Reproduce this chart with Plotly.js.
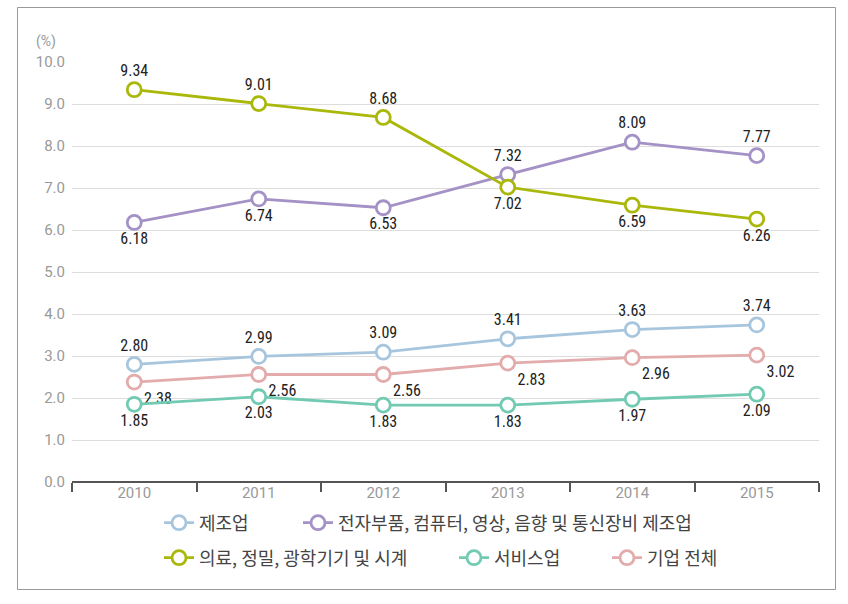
<!DOCTYPE html>
<html>
<head>
<meta charset="utf-8">
<script src="https://cdn.plot.ly/plotly-3.0.1.min.js"></script>
<style>
html,body{margin:0;padding:0;background:#fff;}
#chart{width:848px;height:604px;}
</style>
</head>
<body>
<div id="chart"></div>
<script>
const years = ['2010','2011','2012','2013','2014','2015'];
const seriesNames = ['제조업','전자부품, 컴퓨터, 영상, 음향 및 통신장비 제조업','의료, 정밀, 광학기기 및 시계','서비스업','기업 전체'];
const manufacturing = [2.80, 2.99, 3.09, 3.41, 3.63, 3.74];
const electronics = [6.18, 6.74, 6.53, 7.32, 8.09, 7.77];
const medical = [9.34, 9.01, 8.68, 7.02, 6.59, 6.26];
const services = [1.85, 2.03, 1.83, 1.83, 1.97, 2.09];
const allFirms = [2.38, 2.56, 2.56, 2.83, 2.96, 3.02];
const yTicks = [0,1,2,3,4,5,6,7,8,9,10];

const colors = ['#a7c6de','#a491c6','#a9b80a','#72cab2','#e3abab'];
const labelFont = {family:'"Liberation Sans Narrow", "Roboto Condensed", Roboto, sans-serif', size:16, color:'#222'};

function mk(name, y, color, pos, leg){
  return {
    type:'scatter', mode:'lines+markers+text', x:years, y:y, name:name,
    text:y.map(v=>v.toFixed(2)), textposition:pos, textfont:labelFont,
    line:{color:color, width:2.8},
    marker:{symbol:'circle', size:14, color:'#fff', line:{color:color, width:2.8}},
    cliponaxis:false, legend:leg, hoverinfo:'skip'
  };
}
const data = [
  mk(seriesNames[4], allFirms, colors[4], 'bottom right', 'legend5'),
  mk(seriesNames[3], services, colors[3], 'bottom center', 'legend4'),
  mk(seriesNames[0], manufacturing, colors[0], 'top center', 'legend'),
  mk(seriesNames[1], electronics, colors[1], ['bottom center','bottom center','bottom center','top center','top center','top center'], 'legend2'),
  mk(seriesNames[2], medical, colors[2], ['top center','top center','top center','bottom center','bottom center','bottom center'], 'legend3')
];

const legFont = {family:'"Noto Sans CJK KR", sans-serif', size:18, color:'#444'};
function leg(x,y){ return {x:x, y:y, xanchor:'left', yanchor:'middle', orientation:'h', font:legFont, bgcolor:'rgba(0,0,0,0)', itemclick:false}; }

const W=747, H=420;
function px(x){ return (x-72)/W; }
function py(y){ return (482-y)/H; }

const layout = {
  width:848, height:604,
  margin:{l:72, r:29, t:62, b:122},
  paper_bgcolor:'#fff', plot_bgcolor:'#fff',
  showlegend:true,
  xaxis:{
    type:'category', range:[-0.5,5.5], tickson:'boundaries',
    ticks:'outside', ticklen:9, tickwidth:2, tickcolor:'#555',
    showline:false, showgrid:false, zeroline:false,
    tickfont:{family:'"Liberation Sans Narrow", Roboto, sans-serif', size:15, color:'#999'},
    fixedrange:true
  },
  yaxis:{
    range:[0,10], tickvals:yTicks, tickformat:'.1f',
    showgrid:true, gridcolor:'#dddddd', gridwidth:1,
    zeroline:true, zerolinecolor:'#555', zerolinewidth:2.5,
    showline:false, ticks:'', ticklabelstandoff:6,
    tickfont:{family:'"Liberation Sans Narrow", Roboto, sans-serif', size:15, color:'#999'},
    fixedrange:true
  },
  legend: leg(px(159), py(523)),
  legend2: leg(px(298), py(523)),
  legend3: leg(px(159), py(558)),
  legend4: leg(px(454), py(558)),
  legend5: leg(px(607), py(558)),
  annotations:[
    {xref:'paper', yref:'paper', x:px(46), y:py(42), xanchor:'center', yanchor:'middle', text:'(%)', showarrow:false,
     font:{family:'"Liberation Sans Narrow", Roboto, sans-serif', size:14, color:'#999'}}
  ],
  shapes:[
    {type:'rect', xref:'paper', yref:'paper', x0:px(17.5), x1:px(835.5), y0:py(589.5), y1:py(7.5),
     line:{color:'#999', width:1}, fillcolor:'rgba(0,0,0,0)', layer:'below'}
  ]
};
Plotly.newPlot('chart', data, layout, {staticPlot:true, displayModeBar:false});
</script>
</body>
</html>
